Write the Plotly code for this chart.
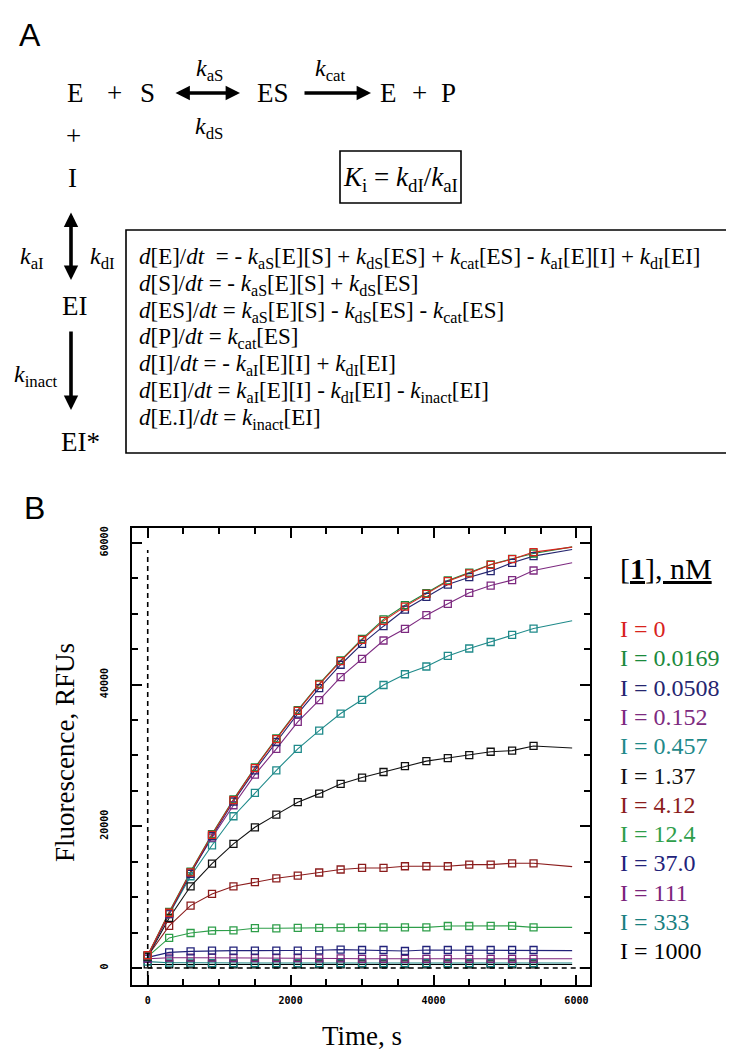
import plotly.graph_objects as go

# ---------------- data ----------------
times = [0, 300, 600, 900, 1200, 1500, 1800, 2100, 2400, 2700, 3000,
         3300, 3600, 3900, 4200, 4500, 4800, 5100, 5400]
t_end = 5940

conc_labels = ["0", "0.0169", "0.0508", "0.152", "0.457", "1.37",
               "4.12", "12.4", "37.0", "111", "333", "1000"]
colors = ["#d8231d", "#1b8a3c", "#25256f", "#7d2a80", "#1f8a8a", "#111111",
          "#8b1c1c", "#2e9e4a", "#22227a", "#7b237b", "#198080", "#000000"]

s_0 = [1800, 7800, 13500, 18800, 23700, 28200, 32300, 36300, 40000, 43300,
       46300, 49000, 51000, 52800, 54600, 55700, 56900, 57700, 58700]
s_0_0169 = [1800, 7900, 13600, 18900, 23800, 28300, 32400, 36400, 40100, 43400,
            46450, 49200, 51200, 52900, 54700, 55800, 56950, 57750, 58500]
s_0_0508 = [1700, 7700, 13300, 18600, 23500, 27900, 31900, 35900, 39500, 42800,
            45750, 48240, 50590, 52380, 54120, 55160, 56010, 57190, 58130]
s_0_152 = [1700, 7600, 13500, 18400, 22970, 27290, 30920, 34740, 37800, 41050,
           43630, 46220, 47870, 49800, 51400, 52950, 53980, 54740, 56100]
s_0_457 = [1700, 7600, 12950, 17320, 21420, 24710, 27900, 30920, 33500, 35910,
           37850, 39940, 41460, 42550, 44050, 45090, 46010, 47020, 47910]
s_1_37 = [1600, 7060, 11530, 14730, 17510, 19860, 21650, 23400, 24610, 25980,
          26880, 27660, 28500, 29200, 29630, 30030, 30520, 30680, 31340]
s_4_12 = [1700, 5950, 8800, 10450, 11530, 12120, 12660, 13050, 13480, 13900,
          14120, 14120, 14360, 14360, 14360, 14590, 14590, 14780, 14780]
s_12_4 = [1600, 4240, 4940, 5270, 5300, 5620, 5600, 5650, 5650, 5690,
          5740, 5740, 5740, 5740, 5930, 5930, 5950, 5950, 5740]
s_37_0 = [1500, 2210, 2350, 2450, 2450, 2450, 2450, 2450, 2500, 2590,
          2540, 2540, 2400, 2540, 2540, 2540, 2540, 2540, 2540]
s_111 = [1300, 1450, 1450, 1450, 1400, 1400, 1400, 1400, 1350, 1350,
         1300, 1300, 1300, 1300, 1300, 1300, 1300, 1300, 1300]
s_333 = [900, 750, 750, 700, 700, 700, 700, 700, 700, 700,
         700, 700, 700, 700, 700, 700, 700, 700, 700]
s_1000 = [500, 500, 500, 500, 500, 500, 500, 500, 500, 500,
          500, 500, 500, 500, 500, 500, 500, 500, 500]
line_end = [59400, 59440, 59060, 57190, 49000, 31060, 14310, 5740, 2450, 1300, 700, 500]

series = [s_0, s_0_0169, s_0_0508, s_0_152, s_0_457, s_1_37,
          s_4_12, s_12_4, s_37_0, s_111, s_333, s_1000]

# ---------------- layout geometry ----------------
W, H = 734, 1050
ML, MR, MT, MB = 124, 152, 520, 73
PW = W - ML - MR
PH = H - MT - MB


def px(x):
    return (x - ML) / PW


def py(y):
    return (H - MB - y) / PH


SERIF = "Liberation Serif, Times New Roman, serif"
SANS = "Liberation Sans, Arial, sans-serif"

fig = go.Figure()

order = list(range(len(series)))[::-1]
for i in order:
    fig.add_trace(go.Scatter(
        x=times + [t_end], y=series[i] + [line_end[i]], mode="lines",
        line=dict(color=colors[i], width=1.1), showlegend=False, hoverinfo="skip"))
for i in order:
    fig.add_trace(go.Scatter(
        x=times, y=series[i], mode="markers",
        marker=dict(symbol="square-open", size=7, color=colors[i],
                    line=dict(width=1.3, color=colors[i])),
        showlegend=False, name="I = " + conc_labels[i]))

xr = [-220, 6190]
yr = [-2400, 62100]

shapes = [
    dict(type="line", xref="x", yref="y", x0=0, x1=0, y0=yr[0], y1=59000,
         line=dict(color="black", width=1.6, dash="5px,4px")),
    dict(type="line", xref="x", yref="y", x0=0, x1=xr[1], y0=0, y1=0,
         line=dict(color="black", width=1.6, dash="5px,4px")),
    dict(type="rect", xref="paper", yref="paper", x0=px(332), x1=px(453),
         y0=py(195), y1=py(143), line=dict(color="black", width=1.6)),
    dict(type="rect", xref="paper", yref="paper", x0=px(118), x1=px(724),
         y0=py(445), y1=py(222), line=dict(color="black", width=1.6)),
]

ann = []


def txt(x, y, s, size, font=SERIF, color="black", anchor="center"):
    ann.append(dict(x=px(x), y=py(y), xref="paper", yref="paper", text=s,
                    showarrow=False, xanchor=anchor, yanchor="middle",
                    font=dict(family=font, size=size, color=color)))


def arrow(x0, y0, x1, y1, both=False):
    ann.append(dict(x=px(x1), y=py(y1), xref="paper", yref="paper", text="",
                    showarrow=True, ax=x0 - x1, ay=y0 - y1,
                    arrowhead=2, arrowsize=0.8, arrowwidth=3.6, arrowcolor="black",
                    arrowside="end+start" if both else "end",
                    startarrowhead=2, startarrowsize=0.8, standoff=0, startstandoff=0))


def k(sub):
    return "<i>k</i><sub>" + sub + "</sub>"


txt(22, 27, "A", 32, SANS)
txt(26, 500, "B", 32, SANS)

sp = 27
txt(67, 85, "E", sp)
txt(106, 85, "+", sp)
txt(139, 85, "S", sp)
txt(265, 85, "ES", sp)
txt(380, 85, "E", sp)
txt(411, 85, "+", sp)
txt(440, 85, "P", sp)
txt(65, 128, "+", sp)
txt(64, 170, "I", sp)
txt(66, 298, "EI", sp)
txt(72, 434, "EI*", sp)

ks = 24
txt(201, 62, k("aS"), ks)
txt(201, 120, k("dS"), ks)
txt(322, 62, k("cat"), ks)
txt(24, 250, k("aI"), ks)
txt(94, 250, k("dI"), ks)
txt(28, 368, k("inact"), ks)

arrow(166, 85, 232, 85, both=True)
arrow(295, 85, 363, 85)
arrow(63, 203, 63, 272, both=True)
arrow(63, 322, 63, 402)

txt(392, 171, "<i>K</i><sub>i</sub> = " + k("dI") + "/" + k("aI"), 27)

eqs = [
    "<i>d</i>[E]/<i>dt</i>  = - " + k("aS") + "[E][S] + " + k("dS") + "[ES] + " + k("cat")
    + "[ES] - " + k("aI") + "[E][I] + " + k("dI") + "[EI]",
    "<i>d</i>[S]/<i>dt</i> = - " + k("aS") + "[E][S] + " + k("dS") + "[ES]",
    "<i>d</i>[ES]/<i>dt</i> = " + k("aS") + "[E][S] - " + k("dS") + "[ES] - " + k("cat") + "[ES]",
    "<i>d</i>[P]/<i>dt</i> = " + k("cat") + "[ES]",
    "<i>d</i>[I]/<i>dt</i> = - " + k("aI") + "[E][I] + " + k("dI") + "[EI]",
    "<i>d</i>[EI]/<i>dt</i> = " + k("aI") + "[E][I] - " + k("dI") + "[EI] - " + k("inact") + "[EI]",
    "<i>d</i>[E.I]/<i>dt</i> = " + k("inact") + "[EI]",
]
for j, e in enumerate(eqs):
    txt(129, 250 + 26.8 * j, e, 23, anchor="left")

txt(610, 560, "<u>[<b>1</b>], nM</u>", 30, anchor="left")
for i, lab in enumerate(conc_labels):
    txt(610, 621 + 29.3 * i, "I = " + lab, 24, color=colors[i], anchor="left")

txt(354, 1028, "Time, s", 27)
ann.append(dict(x=px(57), y=py(745), xref="paper", yref="paper",
                text="Fluorescence, RFUs", showarrow=False, textangle=-90,
                xanchor="center", yanchor="middle",
                font=dict(family=SERIF, size=27, color="black")))

tickfont = dict(family="DejaVu Sans Mono, monospace", size=10, color="black", weight="bold")
common = dict(showgrid=False, zeroline=False, showline=True, linecolor="black",
              linewidth=1.6, mirror="ticks", ticks="inside", ticklen=10,
              tickwidth=1.5, tickcolor="black", tickfont=tickfont, tickformat="d")

fig.update_layout(
    width=W, height=H,
    margin=dict(l=ML, r=MR, t=MT, b=MB, autoexpand=False),
    paper_bgcolor="white", plot_bgcolor="white",
    xaxis=dict(range=xr, tick0=0, dtick=2000,
               minor=dict(dtick=500, ticks="inside", ticklen=6, tickwidth=1.5,
                          tickcolor="black"),
               ticklabelstandoff=5, **common),
    yaxis=dict(range=yr, tick0=0, dtick=20000, tickangle=-90,
               minor=dict(dtick=5000, ticks="inside", ticklen=6, tickwidth=1.5,
                          tickcolor="black"),
               ticklabelstandoff=18, **common),
    shapes=shapes,
    annotations=ann,
)

fig.write_html("out.html")
